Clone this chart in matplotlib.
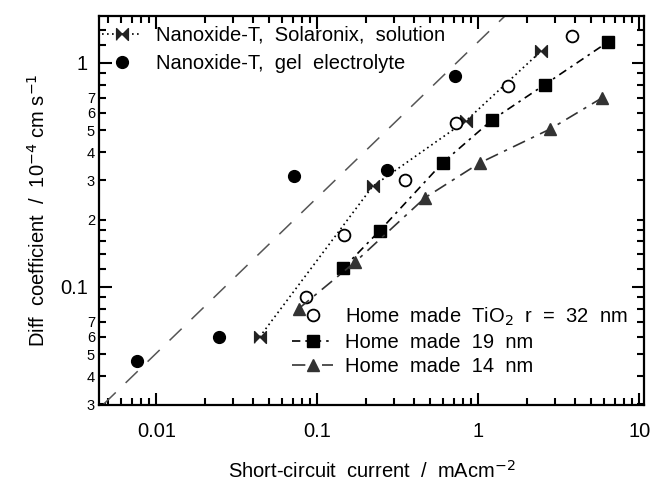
import numpy as np
import matplotlib.pyplot as plt
from matplotlib.ticker import FixedLocator, FuncFormatter, NullFormatter

plt.rcParams['font.family'] = ['Liberation Sans', 'DejaVu Sans']

# values (mA cm^-2, 1e-4 cm^2 s^-1)
sol_x = [0.0437, 0.22, 0.84, 2.45]
sol_y = [0.0598, 0.281, 0.553, 1.13]
gel_x = [0.00756, 0.0246, 0.072, 0.272, 0.714]
gel_y = [0.0467, 0.0598, 0.312, 0.332, 0.87]
r32_x = [0.0845, 0.1466, 0.348, 0.73, 1.52, 3.83]
r32_y = [0.090, 0.170, 0.30, 0.54, 0.79, 1.32]
r19_x = [0.144, 0.243, 0.598, 1.22, 2.58, 6.37]
r19_y = [0.121, 0.178, 0.358, 0.558, 0.80, 1.24]
r14_x = [0.0764, 0.171, 0.465, 1.02, 2.79, 5.89]
r14_y = [0.080, 0.129, 0.25, 0.358, 0.507, 0.70]
guide_x = [0.0047, 1.5]
guide_y = [0.0300, 1.65]

y_minor = [0.03, 0.04, 0.05, 0.06, 0.07, 0.08, 0.09, 0.12, 0.14, 0.16, 0.18,
           0.2, 0.3, 0.4, 0.5, 0.6, 0.7, 0.8, 0.9, 1.2, 1.4]
y_minor_labels = {0.03: "3", 0.04: "4", 0.05: "5", 0.06: "6", 0.07: "7",
                  0.2: "2", 0.3: "3", 0.4: "4", 0.5: "5", 0.6: "6", 0.7: "7"}

bowtie = [(-1, -1), (-1, 1), (0, 0), (1, 1), (1, -1), (0, 0)]
tri_col = "#333333"

fig = plt.figure(figsize=(6.56, 4.84), dpi=100)
ax = fig.add_axes([0.151, 0.163, 0.831, 0.804])

ax.plot(guide_x, guide_y, color="#555555", lw=1.1, dashes=(11, 9))
h_sol, = ax.plot(sol_x, sol_y, color="black", lw=1.2, ls=(0, (1, 2)),
                 marker=bowtie, ms=8.5, mfc="#222222", mec="#222222")
h_gel, = ax.plot(gel_x, gel_y, ls="none", marker="o", ms=8.5, color="black")
h_32, = ax.plot(r32_x, r32_y, ls="none", marker="o", ms=8.5, mfc="white",
                mec="black", mew=1.3)
h_19, = ax.plot(r19_x, r19_y, color="black", lw=1.2, ls=(0, (5, 3, 1.5, 3)),
                marker="s", ms=8.5)
h_14, = ax.plot(r14_x, r14_y, color=tri_col, lw=1.2, ls=(0, (8, 4, 2, 4)),
                marker="^", ms=9)

ax.set_xscale("log")
ax.set_yscale("log")
ax.set_xlim(0.0044, 10.7)
ax.set_ylim(0.0297, 1.62)

ax.set_xticks([0.01, 0.1, 1, 10])
ax.set_xticklabels(["0.01", "0.1", "1", "10"])
ax.set_yticks([0.1, 1])
ax.set_yticklabels(["0.1", "1"])
ax.yaxis.set_minor_locator(FixedLocator(y_minor))
ax.yaxis.set_minor_formatter(FuncFormatter(
    lambda v, p: y_minor_labels.get(round(v, 3), "")))
ax.xaxis.set_minor_formatter(NullFormatter())

ax.tick_params(which="both", direction="in", top=True, right=True, width=1.5,
               color="black")
ax.tick_params(which="major", length=9, labelsize=14.5, pad=8)
ax.tick_params(axis="x", which="major", pad=12)
ax.tick_params(which="minor", length=5)
ax.tick_params(axis="y", which="minor", labelsize=10.5, pad=3)
for s in ax.spines.values():
    s.set_linewidth(1.6)

ax.set_xlabel("Short-circuit  current  /  mAcm$^{-2}$", fontsize=14.5, labelpad=14)
ax.set_ylabel("Diff  coefficient  /  10$^{-4}$ cm s$^{-1}$", fontsize=14.5, labelpad=8)

leg1 = ax.legend([h_sol, h_gel],
                 ["Nanoxide-T,  Solaronix,  solution", "Nanoxide-T,  gel  electrolyte"],
                 loc="upper left", bbox_to_anchor=(-0.01, 0.995), frameon=False,
                 fontsize=14.5, handlelength=2.0, handletextpad=0.7,
                 labelspacing=0.45, borderaxespad=0)
ax.add_artist(leg1)
ax.legend([h_32, h_19, h_14],
          ["Home  made  TiO$_2$  r  =  32  nm", "Home  made  19  nm", "Home  made  14  nm"],
          loc="lower left", bbox_to_anchor=(0.34, 0.055), frameon=False,
          fontsize=14.5, handlelength=2.0, handletextpad=0.6,
          labelspacing=0.25, borderaxespad=0)

fig.savefig("out.png", dpi=100)
